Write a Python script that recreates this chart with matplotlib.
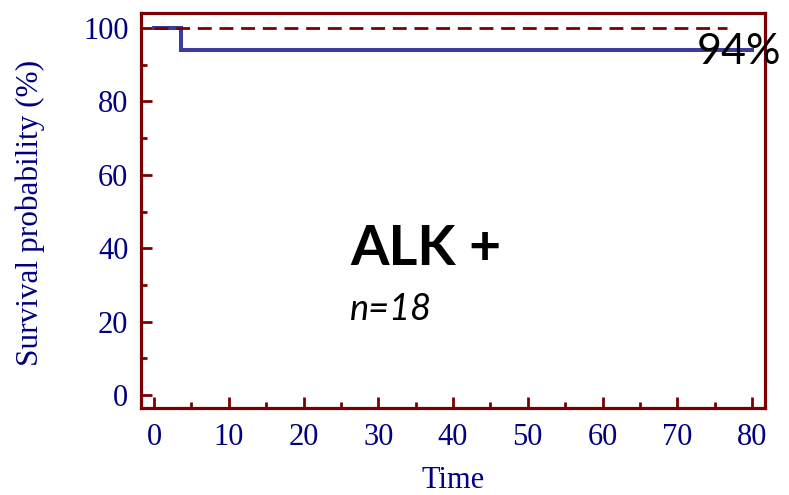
import matplotlib.pyplot as plt
from matplotlib.ticker import MultipleLocator

# survival curve (Kaplan-Meier step)
time = [0, 3.6, 3.6, 80]
surv = [100, 100, 94, 94]
# reference line at 100%
ref_time = [0, 76.6]
ref_surv = [100, 100]

x_ticks = [0, 10, 20, 30, 40, 50, 60, 70, 80]
y_ticks = [0, 20, 40, 60, 80, 100]

maroon = '#7a0000'
navy = '#000080'

fig = plt.figure(figsize=(7.89, 4.95), dpi=100)
ax = fig.add_axes([0.1787, 0.1758, 0.791, 0.798])

ax.plot(time, surv, color='#3c3c9c', lw=2.9, zorder=2, solid_joinstyle='miter')
ax.plot(ref_time, ref_surv, color=maroon, lw=2, dashes=(5, 2.8), zorder=3)

ax.set_xlim(-1.75, 81.75)
ax.set_ylim(-3.5, 104.1)
ax.set_xticks(x_ticks)
ax.set_yticks(y_ticks)
ax.xaxis.set_minor_locator(MultipleLocator(5))
ax.yaxis.set_minor_locator(MultipleLocator(10))

for s in ax.spines.values():
    s.set_color(maroon)
    s.set_linewidth(2.3)

ax.tick_params(which='both', direction='in', color=maroon, width=2,
               labelcolor=navy, labelsize=22)
ax.tick_params(which='major', length=8)
ax.tick_params(which='minor', length=4)
ax.tick_params(axis='x', pad=11)
ax.tick_params(axis='y', pad=9)
for lab in ax.get_xticklabels() + ax.get_yticklabels():
    lab.set_family('Liberation Serif')

ax.set_ylabel('Survival probability (%)', family='Liberation Serif',
              fontsize=22.5, color=navy, va='center')
ax.yaxis.set_label_coords(-0.178, 0.495)
ax.set_xlabel('Time', family='Liberation Serif', fontsize=22, color=navy)
ax.xaxis.set_label_coords(0.5, -0.148)

ax.text(26.2, 35.4, 'ALK +', family='Lato', fontweight='bold', fontsize=40,
        color='black', ha='left', va='baseline')
ax.text(26.2, 20.4, 'n=18', family='Lato', fontstyle='italic', fontsize=26,
        color='black', ha='left', va='baseline')
ax.text(72.6, 90.2, '94%', family='Lato', fontsize=31, color='black',
        ha='left', va='baseline', clip_on=False, zorder=4)

fig.savefig('out.png', dpi=100)
